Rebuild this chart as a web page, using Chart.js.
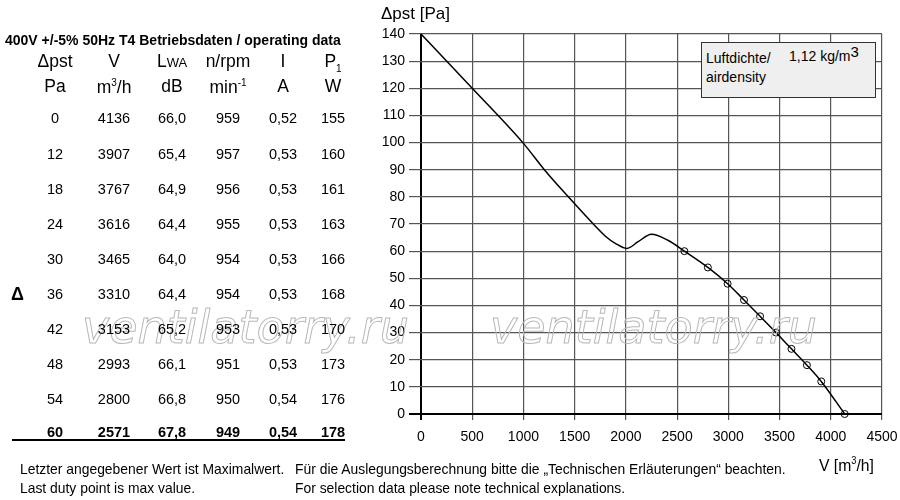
<!DOCTYPE html>
<html>
<head>
<meta charset="utf-8">
<script src="https://cdn.jsdelivr.net/npm/chart.js@4.4.1/dist/chart.umd.min.js"></script>
<style>
  body { margin:0; background:#fff; }
  #wrap { position:relative; width:900px; height:500px; overflow:hidden; font-family:"Liberation Sans", Arial, sans-serif; color:#000; }
  #chart { position:absolute; left:0; top:0; }
  .t { position:absolute; white-space:nowrap; line-height:1; }
  .c { transform:translateX(-50%); }
  .narrow { transform:scaleX(0.925); transform-origin:left top; }
</style>
</head>
<body>
<div id="wrap">
  <canvas id="chart" width="900" height="500"></canvas>

  <div class="t" style="left:5px;top:33px;font-size:14px;font-weight:bold;">400V +/-5% 50Hz T4 Betriebsdaten / operating data</div>
  <div class="t" style="left:381px;top:5px;font-size:17px;">Δpst [Pa]</div>
  <div class="t narrow" style="left:819px;top:456px;font-size:17px;">V [m<sup style="font-size:10px">3</sup>/h]</div>
  <div class="t" style="left:11px;top:285px;font-size:18px;font-weight:bold;">Δ</div>
  <div style="position:absolute;left:12px;top:439px;width:333px;height:2px;background:#000;"></div>

  <div class="t" style="left:701px;top:42px;width:173px;height:54px;background:#efefef;border:1px solid #333;font-size:14px;">
    <div style="position:absolute;left:4px;top:8px;">Luftdichte/</div>
    <div style="position:absolute;left:87px;top:5px;">1,12 kg/m<span style="font-size:15px;position:relative;top:-4px;">3</span></div>
    <div style="position:absolute;left:4px;top:27px;">airdensity</div>
  </div>

  <div class="t narrow" style="left:20px;top:461px;font-size:15px;">Letzter angegebener Wert ist Maximalwert.</div>
  <div class="t narrow" style="left:20px;top:480px;font-size:15px;">Last duty point is max value.</div>
  <div class="t narrow" style="left:295px;top:461px;font-size:15px;">Für die Auslegungsberechnung bitte die „Technischen Erläuterungen“ beachten.</div>
  <div class="t narrow" style="left:295px;top:480px;font-size:15px;">For selection data please note technical explanations.</div>

  <div id="table"></div>
</div>

<script>
// operating data table
var pressureRows = ['0', '12', '18', '24', '30', '36', '42', '48', '54', '60'];
var flowRows = ['4136', '3907', '3767', '3616', '3465', '3310', '3153', '2993', '2800', '2571'];
var soundRows = ['66,0', '65,4', '64,9', '64,4', '64,0', '64,4', '65,2', '66,1', '66,8', '67,8'];
var speedRows = ['959', '957', '956', '955', '954', '954', '953', '951', '950', '949'];
var currentRows = ['0,52', '0,53', '0,53', '0,53', '0,53', '0,53', '0,53', '0,53', '0,54', '0,54'];
var powerRows = ['155', '160', '161', '163', '166', '168', '170', '173', '176', '178'];

var headTop = ['Δpst', 'V', 'L<span style="font-size:13px">WA</span>', 'n/rpm', 'I', 'P<sub style="font-size:10px">1</sub>'];
var headBottom = ['Pa', 'm<sup style="font-size:10px">3</sup>/h', 'dB', 'min<sup style="font-size:10px">-1</sup>', 'A', 'W'];

// fan curve
var curveFlow = [0, 500, 1000, 1204, 1438, 1682, 1800, 1900, 2010, 2120, 2250, 2410, 2571, 2800, 2993, 3153, 3310, 3465, 3616, 3767, 3907, 4136];
var curvePressure = [140, 120, 99.7, 90, 80, 70, 65.5, 62.8, 61, 63.5, 66.2, 64, 60, 54, 48, 42, 36, 30, 24, 18, 12, 0];

var xTicks = [0, 500, 1000, 1500, 2000, 2500, 3000, 3500, 4000, 4500];

var colX = [55, 114, 172, 228, 283, 333];
var rowY = [111, 147, 182, 217, 252, 287, 322, 357, 392, 425];

var cols = [pressureRows, flowRows, soundRows, speedRows, currentRows, powerRows];
var html = '';
for (var c = 0; c < cols.length; c++) {
  html += '<div class="t c" style="left:' + colX[c] + 'px;top:53px;font-size:17.5px;">' + headTop[c] + '</div>';
  html += '<div class="t c" style="left:' + colX[c] + 'px;top:78px;font-size:17.5px;">' + headBottom[c] + '</div>';
  for (var r = 0; r < cols[c].length; r++) {
    var bold = r == cols[c].length - 1 ? 'font-weight:bold;' : '';
    html += '<div class="t c" style="left:' + colX[c] + 'px;top:' + rowY[r] + 'px;font-size:14.5px;' + bold + '">' + cols[c][r] + '</div>';
  }
}
document.getElementById('table').innerHTML = html;

var curveData = curveFlow.map(function(v, i) { return {x: v, y: curvePressure[i]}; });
var dutyData = flowRows.map(function(v, i) { return {x: +v, y: +pressureRows[i]}; });

// outlined watermark text
var watermark = {
  id: 'watermark',
  afterDraw: function(chart) {
    var ctx = chart.ctx;
    ctx.save();
    ctx.font = 'oblique 46px "DejaVu Sans"';
    ctx.strokeStyle = '#b8b8b8';
    ctx.lineWidth = 1;
    ctx.strokeText('ventilatorry.ru', 82, 343);
    ctx.strokeText('ventilatorry.ru', 490, 343);
    ctx.restore();
  }
};

function gridColor(ctx) { return ctx.tick && ctx.tick.value === 0 ? '#000' : '#555'; }
function gridWidth(ctx) { return ctx.tick && ctx.tick.value === 0 ? 2 : 1.2; }

Chart.defaults.font.family = '"Liberation Sans", Arial, sans-serif';
Chart.defaults.color = '#000';

var chart = new Chart(document.getElementById('chart'), {
  type: 'scatter',
  data: {
    datasets: [
      {
        data: curveData,
        showLine: true,
        borderColor: '#000',
        borderWidth: 1.5,
        pointRadius: 0,
        cubicInterpolationMode: 'monotone',
        clip: false
      },
      {
        data: dutyData,
        showLine: false,
        pointRadius: 3.5,
        pointBorderWidth: 1,
        pointBorderColor: '#000',
        pointBackgroundColor: 'rgba(0,0,0,0)',
        clip: false
      }
    ]
  },
  options: {
    responsive: false,
    animation: false,
    layout: { padding: { left: 381, right: 18, top: 34, bottom: 56 } },
    plugins: { legend: { display: false }, tooltip: { enabled: false } },
    scales: {
      x: {
        type: 'linear',
        min: 0,
        max: 4500,
        afterFit: function(s) { s.height = 30; s.paddingLeft = 0; s.paddingRight = 0; },
        afterBuildTicks: function(s) { s.ticks = xTicks.map(function(v) { return {value: v}; }); },
        grid: { color: gridColor, lineWidth: gridWidth, tickLength: 6 },
        border: { display: false },
        ticks: { font: { size: 14 }, padding: 9, maxRotation: 0, callback: function(v) { return String(v); } }
      },
      y: {
        type: 'linear',
        min: 0,
        max: 140,
        afterFit: function(s) { s.width = 40; s.paddingTop = 0; s.paddingBottom = 0; },
        grid: { color: gridColor, lineWidth: gridWidth, tickLength: 12 },
        border: { display: false },
        ticks: { stepSize: 10, font: { size: 14 }, padding: 4, callback: function(v) { return String(v); } }
      }
    }
  },
  plugins: [watermark]
});
</script>
</body>
</html>
